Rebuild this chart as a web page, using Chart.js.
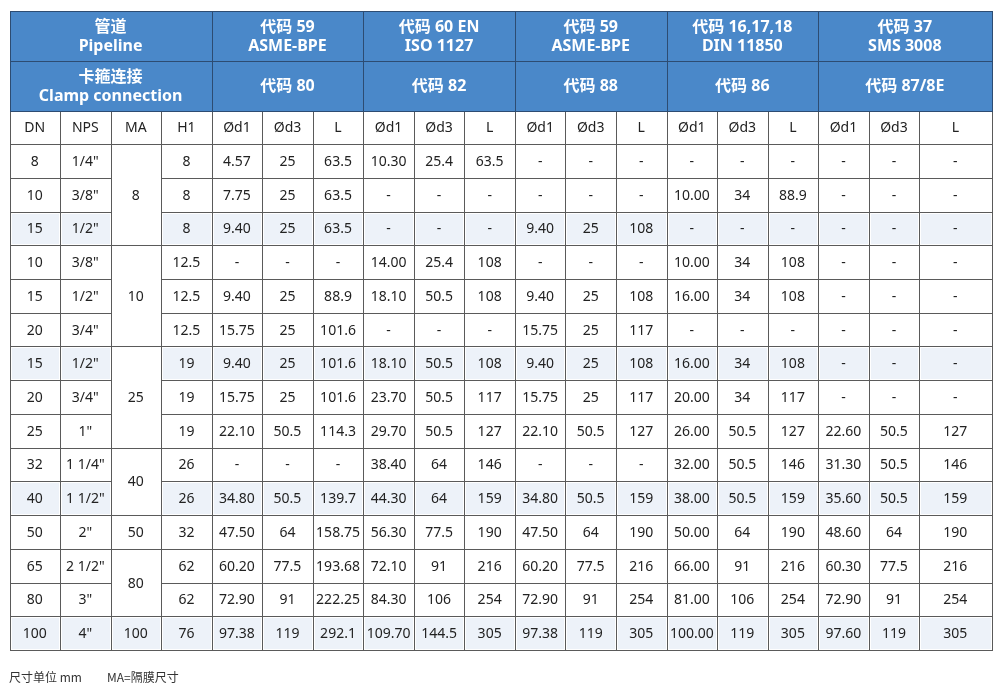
<!DOCTYPE html>
<html><head><meta charset="utf-8">
<script src="https://cdn.jsdelivr.net/npm/chart.js@4.4.0/dist/chart.umd.min.js"></script>
<style>
html,body{margin:0;padding:0;background:#fff;}
#wrap{position:relative;width:1000px;height:691px;}
.note{position:absolute;top:668px;font:12px "Noto Sans CJK SC","Noto Sans",sans-serif;color:#333;white-space:pre;}
</style></head><body>
<div id="wrap"><canvas id="c"></canvas>
<span class="note" style="left:9px">尺寸单位 mm</span><span class="note" style="left:107px">MA=隔膜尺寸</span></div>
<script>
// ---- texts ----
const leftHeader1 = ['管道', 'Pipeline'];
const leftHeader2 = ['卡箍连接', 'Clamp connection'];
const groupTitle = ['代码 59', '代码 60 EN', '代码 59', '代码 16,17,18', '代码 37'];
const groupStandard = ['ASME-BPE', 'ISO 1127', 'ASME-BPE', 'DIN 11850', 'SMS 3008'];
const groupCode = ['代码 80', '代码 82', '代码 88', '代码 86', '代码 87/8E'];
const baseColumns = ['DN', 'NPS', 'MA', 'H1'];
const subColumns = ['Ød1', 'Ød3', 'L'];

// ---- data ----
const dn  = ['8','10','15','10','15','20','15','20','25','32','40','50','65','80','100'];
const nps = ['1/4"','3/8"','1/2"','3/8"','1/2"','3/4"','1/2"','3/4"','1"','1 1/4"','1 1/2"','2"','2 1/2"','3"','4"'];
const maLabels = ['8','10','25','40','50','80','100'];
const maSpans  = [3, 3, 3, 2, 1, 2, 1];
const h1  = ['8','8','8','12.5','12.5','12.5','19','19','19','26','26','32','62','62','76'];

const code80_d1 = ['4.57','7.75','9.40','-','9.40','15.75','9.40','15.75','22.10','-','34.80','47.50','60.20','72.90','97.38'];
const code80_d3 = ['25','25','25','-','25','25','25','25','50.5','-','50.5','64','77.5','91','119'];
const code80_L  = ['63.5','63.5','63.5','-','88.9','101.6','101.6','101.6','114.3','-','139.7','158.75','193.68','222.25','292.1'];

const code82_d1 = ['10.30','-','-','14.00','18.10','-','18.10','23.70','29.70','38.40','44.30','56.30','72.10','84.30','109.70'];
const code82_d3 = ['25.4','-','-','25.4','50.5','-','50.5','50.5','50.5','64','64','77.5','91','106','144.5'];
const code82_L  = ['63.5','-','-','108','108','-','108','117','127','146','159','190','216','254','305'];

const code88_d1 = ['-','-','9.40','-','9.40','15.75','9.40','15.75','22.10','-','34.80','47.50','60.20','72.90','97.38'];
const code88_d3 = ['-','-','25','-','25','25','25','25','50.5','-','50.5','64','77.5','91','119'];
const code88_L  = ['-','-','108','-','108','117','108','117','127','-','159','190','216','254','305'];

const code86_d1 = ['-','10.00','-','10.00','16.00','-','16.00','20.00','26.00','32.00','38.00','50.00','66.00','81.00','100.00'];
const code86_d3 = ['-','34','-','34','34','-','34','34','50.5','50.5','50.5','64','91','106','119'];
const code86_L  = ['-','88.9','-','108','108','-','108','117','127','146','159','190','216','254','305'];

const code87_d1 = ['-','-','-','-','-','-','-','-','22.60','31.30','35.60','48.60','60.30','72.90','97.60'];
const code87_d3 = ['-','-','-','-','-','-','-','-','50.5','50.5','50.5','64','77.5','91','119'];
const code87_L  = ['-','-','-','-','-','-','-','-','127','146','159','190','216','254','305'];

const groupSeries = [
  [code80_d1, code80_d3, code80_L],
  [code82_d1, code82_d3, code82_L],
  [code88_d1, code88_d3, code88_L],
  [code86_d1, code86_d3, code86_L],
  [code87_d1, code87_d3, code87_L]
];
const shadedRows = [2, 6, 10, 14];

// ---- layout (units on the chart scales) ----
const colWidths = [1,1,1,1, 1,1,1, 1,1,1, 1,1,1, 1,1,1, 1,1,1.43];
const headerHeights = [1.49, 1.48, 0.99];
const colEdges = [0]; colWidths.forEach(w => colEdges.push(colEdges[colEdges.length-1] + w));
const rowEdges = [0]; headerHeights.forEach(h => rowEdges.push(rowEdges[rowEdges.length-1] + h));
dn.forEach(() => rowEdges.push(rowEdges[rowEdges.length-1] + 1));
const totalW = colEdges[colEdges.length-1];
const totalH = rowEdges[rowEdges.length-1];

const BLUE = '#4a88c9', SHADE = '#edf2f9', HEAD_LINE = '#2d4c72', LINE = '#5a5a5a';
const FONT = '"Noto Sans","Noto Sans CJK SC",sans-serif';

function buildCells() {
  const cells = [];
  const hdr = (c0,c1,r0,r1,lines) => cells.push({c0,c1,r0,r1,lines,fill:BLUE,stroke:HEAD_LINE,bold:true,color:'#fff',size:16});
  hdr(0,4,0,1,leftHeader1);
  hdr(0,4,1,2,leftHeader2);
  groupTitle.forEach((t,g) => {
    hdr(4+3*g,7+3*g,0,1,[t,groupStandard[g]]);
    hdr(4+3*g,7+3*g,1,2,[groupCode[g]]);
  });
  const body = (c0,c1,r0,r1,text,shade) => cells.push({c0,c1,r0,r1,lines:[text],fill:shade?SHADE:'#fff',stroke:LINE,bold:false,color:'#222',size:14,inset:shade});
  baseColumns.forEach((t,i) => body(i,i+1,2,3,t,false));
  groupTitle.forEach((_,g) => subColumns.forEach((t,k) => body(4+3*g+k,5+3*g+k,2,3,t,false)));
  let r = 0;
  maLabels.forEach((m,i) => {
    const span = maSpans[i];
    body(2,3,3+r,3+r+span,m, span===1 && shadedRows.includes(r));
    r += span;
  });
  dn.forEach((_,i) => {
    const sh = shadedRows.includes(i), R = 3+i;
    body(0,1,R,R+1,dn[i],sh);
    body(1,2,R,R+1,nps[i],sh);
    body(3,4,R,R+1,h1[i],sh);
    groupSeries.forEach((ser,g) => ser.forEach((arr,k) => body(4+3*g+k,5+3*g+k,R,R+1,arr[i],sh)));
  });
  return cells;
}
const cells = buildCells();

const tablePlugin = {
  id: 'table',
  afterDraw(chart) {
    const ctx = chart.ctx, xs = chart.scales.x, ys = chart.scales.y;
    const X = i => Math.round(xs.getPixelForValue(colEdges[i])) + 0.5;
    const Y = i => Math.round(ys.getPixelForValue(rowEdges[i])) + 0.5;
    ctx.save();
    // fills
    cells.forEach(c => {
      const x0 = X(c.c0), x1 = X(c.c1), y0 = Y(c.r0), y1 = Y(c.r1);
      ctx.fillStyle = c.fill;
      if (c.inset) ctx.fillRect(x0+1.5, y0+1.5, x1-x0-3, y1-y0-3);
      else ctx.fillRect(x0, y0, x1-x0, y1-y0);
    });
    // strokes: body first, header on top
    ctx.lineWidth = 1;
    [LINE, HEAD_LINE].forEach(col => cells.filter(c => c.stroke === col).forEach(c => {
      const x0 = X(c.c0), x1 = X(c.c1), y0 = Y(c.r0), y1 = Y(c.r1);
      ctx.strokeStyle = col;
      ctx.strokeRect(x0, y0, x1-x0, y1-y0);
    }));
    // texts
    ctx.textAlign = 'center';
    ctx.textBaseline = 'middle';
    cells.forEach(c => {
      const cx = (xs.getPixelForValue(colEdges[c.c0]) + xs.getPixelForValue(colEdges[c.c1])) / 2;
      const cy = (ys.getPixelForValue(rowEdges[c.r0]) + ys.getPixelForValue(rowEdges[c.r1])) / 2;
      ctx.fillStyle = c.color;
      ctx.font = (c.bold ? 'bold ' : '') + c.size + 'px ' + FONT;
      const lh = 19, n = c.lines.length;
      c.lines.forEach((t, j) => ctx.fillText(t, cx, cy + (j - (n-1)/2) * lh + 1));
    });
    ctx.restore();
  }
};

new Chart(document.getElementById('c'), {
  type: 'scatter',
  data: { datasets: [{ data: [] }] },
  options: {
    responsive: true, maintainAspectRatio: false, animation: false,
    layout: { padding: { left: 9.5, right: 8.5, top: 10.5, bottom: 41 } },
    plugins: { legend: { display: false }, tooltip: { enabled: false } },
    scales: {
      x: { type: 'linear', display: false, min: 0, max: totalW, bounds: 'data' },
      y: { type: 'linear', display: false, reverse: true, min: 0, max: totalH, bounds: 'data' }
    }
  },
  plugins: [tablePlugin]
});
</script>
</body></html>
